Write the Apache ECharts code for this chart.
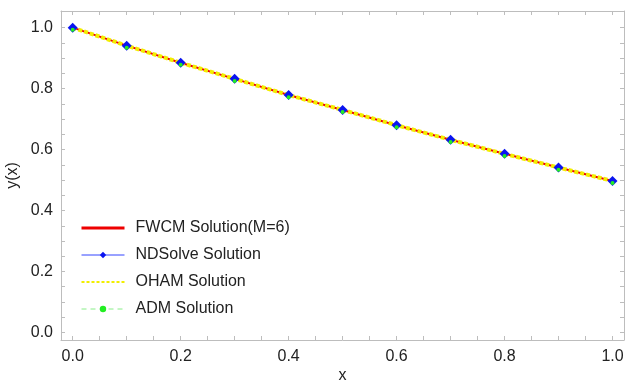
<!DOCTYPE html>
<html><head><meta charset="utf-8">
<script src="https://cdn.jsdelivr.net/npm/echarts@6/dist/echarts.min.js"></script>
<style>html,body{margin:0;padding:0;background:#fff}#c{width:626px;height:382px}</style>
</head><body><div id="c"></div>
<script>
const xValues = [0, 0.1, 0.2, 0.3, 0.4, 0.5, 0.6, 0.7, 0.8, 0.9, 1.0];
const fwcm   = [1.000, 0.941, 0.885, 0.832, 0.779, 0.730, 0.680, 0.632, 0.586, 0.541, 0.497];
const ndsolve= [1.000, 0.941, 0.885, 0.832, 0.779, 0.730, 0.680, 0.632, 0.586, 0.541, 0.497];
const oham   = [1.000, 0.941, 0.885, 0.832, 0.779, 0.730, 0.680, 0.632, 0.586, 0.541, 0.497];
const adm    = [0.993, 0.934, 0.878, 0.825, 0.772, 0.723, 0.673, 0.625, 0.579, 0.534, 0.490];
const xTickLabels = [0, 0.2, 0.4, 0.6, 0.8, 1.0];
const yTickLabels = [0, 0.2, 0.4, 0.6, 0.8, 1.0];
const xMinorTicks = [0,0.05,0.1,0.15,0.2,0.25,0.3,0.35,0.4,0.45,0.5,0.55,0.6,0.65,0.7,0.75,0.8,0.85,0.9,0.95,1.0];
const yMinorTicks = [0,0.05,0.1,0.15,0.2,0.25,0.3,0.35,0.4,0.45,0.5,0.55,0.6,0.65,0.7,0.75,0.8,0.85,0.9,0.95,1.0];

const pair = arr => xValues.map((x, i) => [x, arr[i]]);
const frameColor = '#bdbdbd';
const font = 'Liberation Sans, Arial, sans-serif';

function makeX(pos, showLabels) {
  return {
    type: 'value', position: pos, min: -0.0217, max: 1.0213,
    axisLine: {show: true, onZero: false, lineStyle: {color: frameColor, width: 1}},
    axisTick: {show: true, inside: true, length: 4, customValues: xMinorTicks, lineStyle: {color: frameColor}},
    axisLabel: {show: showLabels, customValues: xTickLabels, formatter: v => v.toFixed(1),
      color: '#222', fontSize: 16, fontFamily: font, margin: 9},
    splitLine: {show: false},
    name: showLabels ? 'x' : '', nameLocation: 'middle', nameGap: 28, nameMoveOverlap: false,
    nameTextStyle: {color: '#222', fontSize: 16, fontFamily: font}
  };
}
function makeY(pos, showLabels) {
  return {
    type: 'value', position: pos, min: -0.0249, max: 1.0547,
    axisLine: {show: true, onZero: false, lineStyle: {color: frameColor, width: 1}},
    axisTick: {show: true, inside: true, length: 4, customValues: yMinorTicks, lineStyle: {color: frameColor}},
    axisLabel: {show: showLabels, customValues: yTickLabels, formatter: v => v.toFixed(1),
      color: '#222', fontSize: 16, fontFamily: font, margin: 8},
    splitLine: {show: false},
    name: showLabels ? 'y(x)' : '', nameLocation: 'middle', nameGap: 40, nameRotate: 90, nameMoveOverlap: false,
    nameTextStyle: {color: '#222', fontSize: 16, fontFamily: font}
  };
}

const chart = echarts.init(document.getElementById('c'), null, {renderer: 'canvas'});
chart.setOption({
  animation: false,
  backgroundColor: '#fff',
  grid: {left: 61, right: 2, top: 11, bottom: 42, containLabel: false, outerBoundsMode: 'none'},
  xAxis: [makeX('bottom', true), makeX('top', false)],
  yAxis: [makeY('left', true), makeY('right', false)],
  legend: {
    orient: 'vertical', left: 75, top: 215, itemWidth: 43, itemHeight: 8, itemGap: 11,
    textStyle: {fontSize: 16, fontFamily: font, color: '#222', padding: [0, 0, 0, 6]},
    data: [
      {name: 'FWCM Solution(M=6)', itemStyle: {opacity: 0}, lineStyle: {width: 3}},
      {name: 'NDSolve Solution', lineStyle: {width: 1, opacity: 1, color: '#3344ff'}},
      {name: 'OHAM Solution', itemStyle: {opacity: 0}, lineStyle: {width: 2, type: [3, 2]}},
      {name: 'ADM Solution', lineStyle: {width: 1, opacity: 1, color: '#88ee88', type: [5, 4]}}
    ]
  },
  series: [
    {name: 'FWCM Solution(M=6)', type: 'line', data: pair(fwcm), symbol: 'none', z: 2, clip: false,
      lineStyle: {color: '#ee0000', width: 2}, itemStyle: {color: '#ee0000'}},
    {name: 'OHAM Solution', type: 'line', data: pair(oham), symbol: 'none', z: 4, clip: false,
      lineStyle: {color: '#f2ee00', width: 4, type: [4, 2]}, itemStyle: {color: '#f2ee00'}},
    {name: 'NDSolve Solution', type: 'line', data: pair(ndsolve), symbol: 'diamond', symbolSize: 10, z: 5, clip: false,
      lineStyle: {color: '#3344ff', width: 1, opacity: 0}, itemStyle: {color: '#0a14f0'}},
    {name: 'ADM Solution', type: 'line', data: pair(adm), symbol: 'circle', symbolSize: 4, z: 6, clip: false,
      lineStyle: {color: '#88ee88', width: 1, type: [5, 4], opacity: 0}, itemStyle: {color: '#22ee22'}}
  ]
});
</script></body></html>
